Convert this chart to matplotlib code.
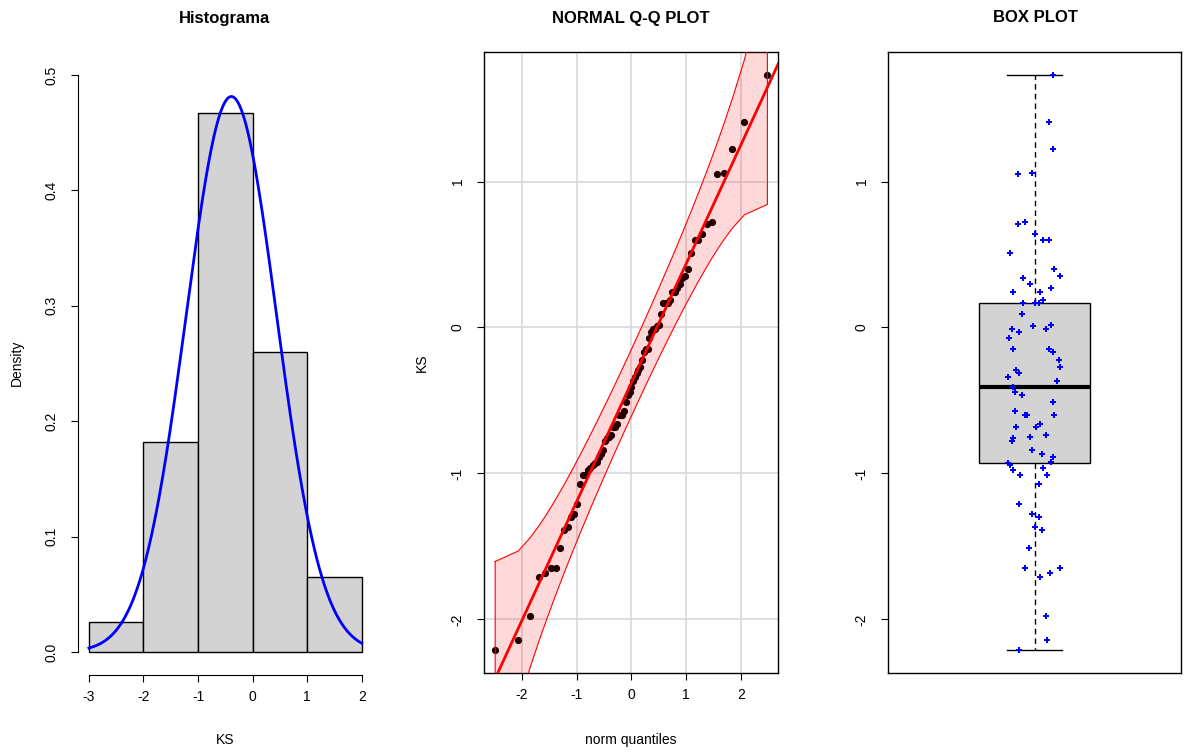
import numpy as np
import matplotlib
matplotlib.use("Agg")
import matplotlib.pyplot as plt
from statistics import NormalDist

plt.rcParams['font.family'] = ['Liberation Sans', 'DejaVu Sans']
plt.rcParams['axes.unicode_minus'] = False

# KS values, with their horizontal jitter (x units)
ks = [1.73, 1.41, 1.22, 1.05, 1.06, 0.71, 0.72, 0.64, 0.60, 0.60,
      0.51, 0.40, 0.35, 0.34, 0.27, 0.24, 0.24, 0.19, 0.17, 0.17,
      0.17, 0.09, 0.01, 0.02, -0.01, -0.03, -0.01, -0.07, -0.15, -0.15,
      -0.17, -0.22, -0.27, -0.29, -0.31, -0.34, -0.37, -0.41, -0.44, -0.46,
      -0.51, -0.57, -0.60, -0.60, -0.60, -0.66, -0.68, -0.68, -0.74, -0.75,
      -0.76, -0.78, -0.84, -0.87, -0.89, -0.92, -0.93, -0.94, -0.96, -0.98,
      -1.01, -1.01, -1.07, -1.21, -1.28, -1.30, -1.37, -1.39, -1.51, -1.65,
      -1.65, -1.68, -1.71, -1.98, -2.14, -2.21, 0.30]
jitter = [0.064, 0.049, 0.064, -0.058, -0.009, -0.058, -0.033, 0.001, 0.029, 0.049,
          -0.083, 0.068, 0.087, -0.039, 0.058, -0.073, 0.019, 0.029, -0.039, 0.001,
          0.015, -0.043, -0.005, 0.058, -0.077, -0.054, 0.039, -0.088, -0.073, 0.049,
          0.064, 0.083, 0.087, -0.063, -0.054, -0.092, 0.077, -0.073, -0.067, -0.043,
          0.063, -0.067, -0.034, -0.024, 0.068, 0.019, -0.063, 0.005, 0.039, -0.015,
          -0.073, -0.077, -0.009, 0.025, 0.063, 0.058, -0.092, -0.082, 0.029, -0.073,
          0.044, -0.048, 0.015, -0.054, -0.009, 0.015, 0.000, 0.025, -0.019, -0.034,
          0.087, 0.053, 0.019, 0.039, 0.044, -0.054, -0.017]

bins = [-3, -2, -1, 0, 1, 2]
hist_yticks = [0.0, 0.1, 0.2, 0.3, 0.4, 0.5]
qq_xticks = [-2, -1, 0, 1, 2]
qq_yticks = [-2, -1, 0, 1]

x = np.array(ks)
n = len(x)
W, H = 1184, 753


def place(l, t, r, b):
    return [l / W, 1 - b / H, (r - l) / W, (b - t) / H]


def rstyle_yticks(ax, pad):
    ax.tick_params(axis='y', length=5, pad=pad, labelsize=10, direction='out')
    for lab in ax.get_yticklabels():
        lab.set_rotation(90)
        lab.set_verticalalignment('center')


fig = plt.figure(figsize=(W / 100, H / 100), dpi=100)

# ---- Histogram ----
ax1 = fig.add_axes(place(78, 52, 372.6, 675))
ax1.hist(x, bins=bins, density=True, color='#d3d3d3', edgecolor='black', linewidth=1)
mu, sd = x.mean(), x.std(ddof=1)
xs = np.linspace(-3, 2, 300)
nd = NormalDist(mu, sd)
ax1.plot(xs, [nd.pdf(v) for v in xs], color='blue', lw=2)
ax1.set_xlim(-3.2, 2.2)
ax1.set_ylim(-0.02, 0.52)
ax1.spines['top'].set_visible(False)
ax1.spines['right'].set_visible(False)
ax1.spines['left'].set_bounds(0, 0.5)
ax1.spines['bottom'].set_bounds(-3, 2)
ax1.set_xticks(bins)
ax1.set_yticks(hist_yticks)
ax1.set_yticklabels([f"{v:.1f}" for v in hist_yticks])
ax1.tick_params(axis='x', length=5, pad=6, labelsize=10)
rstyle_yticks(ax1, 9)

# ---- Normal Q-Q plot ----
ax2 = fig.add_axes(place(484.3, 52, 778.3, 673))
xsort = np.sort(x)
P = (np.arange(1, n + 1) - 0.5) / n
z = np.array([NormalDist().inv_cdf(p) for p in P])
q1, q3 = np.quantile(x, [0.25, 0.75])
zq1, zq3 = NormalDist().inv_cdf(0.25), NormalDist().inv_cdf(0.75)
b = (q3 - q1) / (zq3 - zq1)
a = q1 - b * zq1
fit = a + b * z
se = b / np.array([NormalDist().pdf(v) for v in z]) * np.sqrt(P * (1 - P) / n)
zc = NormalDist().inv_cdf(0.975)
upper, lower = fit + zc * se, fit - zc * se

for t in qq_xticks:
    ax2.axvline(t, color='#d9d9d9', lw=1.2, zorder=0)
for t in qq_yticks:
    ax2.axhline(t, color='#d9d9d9', lw=1.2, zorder=0)
ax2.scatter(z, xsort, s=27, color='black', zorder=2, linewidths=0)
ax2.fill(np.concatenate([z, z[::-1]]), np.concatenate([upper, lower[::-1]]),
         color='red', alpha=0.15, lw=0, zorder=3)
ax2.plot(np.concatenate([z, z[::-1], z[:1]]), np.concatenate([upper, lower[::-1], upper[:1]]),
         color='red', lw=0.8, zorder=4)
ax2.axline((0, a), slope=b, color='red', lw=2, zorder=4)
zr = z.max() - z.min()
ax2.set_xlim(z.min() - 0.04 * zr, z.max() + 0.04 * zr)
yr = x.max() - x.min()
ylim = (x.min() - 0.04 * yr, x.max() + 0.04 * yr)
ax2.set_ylim(*ylim)
ax2.set_xticks(qq_xticks)
ax2.set_yticks(qq_yticks)
ax2.tick_params(axis='x', length=5, pad=6, labelsize=10)
rstyle_yticks(ax2, 9)
for s in ax2.spines.values():
    s.set_linewidth(1)

# ---- Box plot ----
ax3 = fig.add_axes(place(888, 52, 1181, 673))
ax3.boxplot(x, positions=[1], widths=0.376, whis=1.5, showfliers=False, patch_artist=True,
            capwidths=0.19,
            boxprops=dict(facecolor='#d3d3d3', edgecolor='black', linewidth=1),
            medianprops=dict(color='black', linewidth=3),
            whiskerprops=dict(color='black', linestyle=(0, (4, 3)), linewidth=1),
            capprops=dict(color='black', linewidth=1))
ax3.scatter(1 + np.array(jitter), x, marker='P', s=17, color='blue', linewidths=0, zorder=5)
ax3.set_xlim(0.5, 1.5)
ax3.set_ylim(*ylim)
ax3.set_xticks([])
ax3.set_yticks(qq_yticks)
rstyle_yticks(ax3, 9)
for s in ax3.spines.values():
    s.set_linewidth(1)

# ---- titles and axis labels ----
fig.text(225 / W, 1 - 18 / H, 'Histograma', ha='center', va='center', fontsize=12, fontweight='bold')
fig.text(631 / W, 1 - 18 / H, 'NORMAL Q-Q PLOT', ha='center', va='center', fontsize=12, fontweight='bold')
fig.text(1035 / W, 1 - 18 / H, 'BOX PLOT', ha='center', va='center', fontsize=12, fontweight='bold')
fig.text(17 / W, 1 - 363 / H, 'Density', ha='center', va='center', rotation=90, fontsize=10)
fig.text(225 / W, 1 - 740 / H, 'KS', ha='center', va='center', fontsize=10)
fig.text(422 / W, 1 - 363 / H, 'KS', ha='center', va='center', rotation=90, fontsize=10)
fig.text(631 / W, 1 - 740 / H, 'norm quantiles', ha='center', va='center', fontsize=10)

fig.savefig('out.png', dpi=100)
